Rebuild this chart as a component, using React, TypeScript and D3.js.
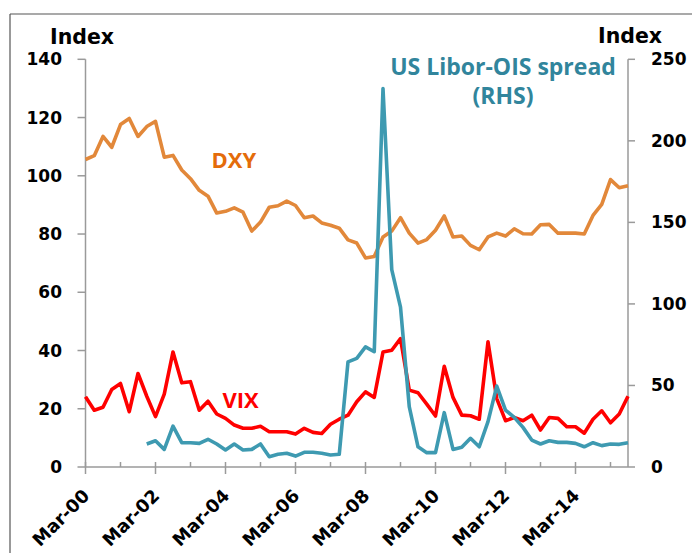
import React from "react";
import * as d3 from "d3";

const categories: string[] = [
  "Mar-00","Jun-00","Sep-00","Dec-00","Mar-01","Jun-01","Sep-01","Dec-01",
  "Mar-02","Jun-02","Sep-02","Dec-02","Mar-03","Jun-03","Sep-03","Dec-03",
  "Mar-04","Jun-04","Sep-04","Dec-04","Mar-05","Jun-05","Sep-05","Dec-05",
  "Mar-06","Jun-06","Sep-06","Dec-06","Mar-07","Jun-07","Sep-07","Dec-07",
  "Mar-08","Jun-08","Sep-08","Dec-08","Mar-09","Jun-09","Sep-09","Dec-09",
  "Mar-10","Jun-10","Sep-10","Dec-10","Mar-11","Jun-11","Sep-11","Dec-11",
  "Mar-12","Jun-12","Sep-12","Dec-12","Mar-13","Jun-13","Sep-13","Dec-13",
  "Mar-14","Jun-14","Sep-14","Dec-14","Mar-15","Jun-15","Sep-15"
];

const dxy: number[] = [
  105.6,106.9,113.5,109.8,117.6,119.7,113.5,116.9,118.7,106.4,107,102,99,95,93,87.2,
  87.8,89,87.5,81,84.1,89.2,89.7,91.3,89.8,85.6,86.2,83.8,83,82,78,76.9,
  71.8,72.3,79,81,85.6,80.3,76.9,78.1,81.3,86.2,79,79.3,76.1,74.6,79,80.3,
  79.3,81.8,80.1,80,83.2,83.3,80.3,80.3,80.3,80,86.4,90.2,98.7,95.9,96.6
];

const vix: number[] = [
  24.1,19.5,20.5,26.6,28.7,19,32.1,24.3,17.3,25,39.5,28.9,29.3,19.5,22.6,18.2,
  16.7,14.4,13.3,13.3,14,12.1,12.1,12.1,11.3,13.3,11.9,11.5,14.7,16.4,17.8,22.4,
  25.8,23.9,39.5,40.1,44.1,26.4,25.5,21.6,17.5,34.6,23.9,17.8,17.6,16.4,43,23.5,
  15.9,17,15.9,17.8,12.7,17,16.7,13.8,13.8,11.6,16.4,19.3,15.2,18.2,24.3
];

const liborOis: (number | null)[] = [
  null,null,null,null,null,null,null,14.1,16.1,10.8,25.1,14.9,14.9,14.5,17,14.1,
  10.4,14.1,10.4,10.8,14.1,6.3,7.8,8.4,6.7,9,9,8.4,7.4,7.8,64.5,66.6,
  73.7,70.7,232,121,98,37,12.4,8.8,8.8,33.3,10.8,12.1,17.6,12.4,27.8,49.6,
  34.9,30.4,24.3,16.5,14.1,16.1,15.1,15.1,14.5,12.4,14.9,13.1,14.1,13.9,14.9
];

const leftTicks: number[] = [0, 20, 40, 60, 80, 100, 120, 140];
const rightTicks: number[] = [0, 50, 100, 150, 200, 250];
const xLabels: string[] = ["Mar-00","Mar-02","Mar-04","Mar-06","Mar-08","Mar-10","Mar-12","Mar-14"];
const xMinor: string[] = ["Mar-01","Mar-03","Mar-05","Mar-07","Mar-09","Mar-11","Mar-13","Mar-15"];

const W = 692, H = 553;
const X0 = 85.5, X1 = 628, Y0 = 467, Y1 = 59.3;
const AXIS = "#9a9a9a";
const TICKFONT = "'DejaVu Sans', sans-serif";
const LABELFONT = "'Open Sans', sans-serif";

export default function App() {
  const x = d3.scalePoint<string>().domain(categories).range([X0, X1]);
  const yL = d3.scaleLinear().domain([0, 140]).range([Y0, Y1]);
  const yR = d3.scaleLinear().domain([0, 250]).range([Y0, Y1]);

  const lineL = d3.line<number>().x((_, i) => x(categories[i])!).y((d) => yL(d));
  const lineR = d3
    .line<number | null>()
    .defined((d) => d != null)
    .x((_, i) => x(categories[i])!)
    .y((d) => yR(d as number));

  return (
    <svg width={W} height={H} style={{ position: "absolute", left: 0, top: 0, background: "#fff" }}>
      {/* frame */}
      <line x1={10} y1={14} x2={W} y2={14} stroke="#555" strokeWidth={1.2} />
      <line x1={10} y1={14} x2={10} y2={H} stroke="#555" strokeWidth={1.2} />

      {/* axes */}
      <line x1={X0} y1={Y1} x2={X0} y2={Y0} stroke={AXIS} strokeWidth={1.5} />
      <line x1={X1} y1={Y1} x2={X1} y2={Y0} stroke={AXIS} strokeWidth={1.5} />
      <line x1={X0} y1={Y0} x2={X1} y2={Y0} stroke={AXIS} strokeWidth={1.5} />

      {leftTicks.map((t) => (
        <g key={"l" + t}>
          <line x1={X0 - 8} x2={X0} y1={yL(t)} y2={yL(t)} stroke={AXIS} strokeWidth={1.5} />
          <text x={62} y={yL(t) + 6} textAnchor="end" fontFamily={TICKFONT} fontWeight="bold" fontSize={17} fill="#000">
            {t}
          </text>
        </g>
      ))}
      {rightTicks.map((t) => (
        <g key={"r" + t}>
          <line x1={X1} x2={X1 + 7} y1={yR(t)} y2={yR(t)} stroke={AXIS} strokeWidth={1.5} />
          <text x={651} y={yR(t) + 6} textAnchor="start" fontFamily={TICKFONT} fontWeight="bold" fontSize={17} fill="#000">
            {t}
          </text>
        </g>
      ))}

      {xLabels.map((c) => (
        <g key={"x" + c}>
          <line x1={x(c)!} x2={x(c)!} y1={Y0 - 5} y2={Y0 + 7} stroke={AXIS} strokeWidth={1.5} />
          <text
            transform={`translate(${x(c)! + 5},${497}) rotate(-45)`}
            textAnchor="end"
            fontFamily={TICKFONT}
            fontWeight="bold"
            fontSize={18}
            fill="#000"
          >
            {c}
          </text>
        </g>
      ))}
      {xMinor.map((c) => (
        <line key={"m" + c} x1={x(c)!} x2={x(c)!} y1={Y0 - 5} y2={Y0} stroke={AXIS} strokeWidth={1.5} />
      ))}

      {/* series */}
      <path d={lineL(dxy)!} fill="none" stroke="#E2883A" strokeWidth={3.6} strokeLinejoin="round" />
      <path d={lineL(vix)!} fill="none" stroke="#FF0000" strokeWidth={3.6} strokeLinejoin="round" />
      <path d={lineR(liborOis)!} fill="none" stroke="#3E9AB1" strokeWidth={3.6} strokeLinejoin="round" />

      {/* axis titles */}
      <text x={50} y={44} fontFamily={TICKFONT} fontWeight="bold" fontSize={20.5} fill="#000">Index</text>
      <text x={598} y={43} fontFamily={TICKFONT} fontWeight="bold" fontSize={20.5} fill="#000">Index</text>

      {/* series labels */}
      <text x={503} y={75} textAnchor="middle" fontFamily={LABELFONT} fontWeight="bold" fontSize={23} fill="#31859C">
        US Libor-OIS spread
      </text>
      <text x={503} y={104} textAnchor="middle" fontFamily={LABELFONT} fontWeight="bold" fontSize={23} fill="#31859C">
        (RHS)
      </text>
      <text x={211.5} y={168} fontFamily={LABELFONT} fontWeight="bold" fontSize={22} fill="#E46C0A">DXY</text>
      <text x={222.5} y={408} fontFamily={LABELFONT} fontWeight="bold" fontSize={22} fill="#FF0000">VIX</text>
    </svg>
  );
}
